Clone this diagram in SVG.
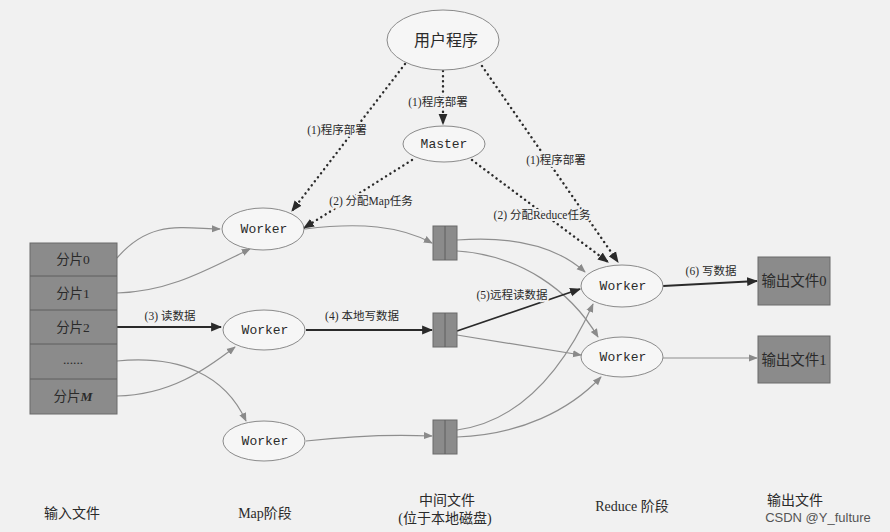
<svg xmlns="http://www.w3.org/2000/svg" width="890" height="532" viewBox="0 0 890 532">
<defs>
<marker id="ag" viewBox="0 0 10 10" refX="9" refY="5" markerWidth="9" markerHeight="9" markerUnits="userSpaceOnUse" orient="auto"><path d="M0,1 L10,5 L0,9 z" fill="#8a8a8a"/></marker>
<marker id="ad" viewBox="0 0 10 10" refX="9" refY="5" markerWidth="11" markerHeight="11" markerUnits="userSpaceOnUse" orient="auto"><path d="M0,1 L10,5 L0,9 z" fill="#2a2a2a"/></marker>
</defs>
<style>
.bg{fill:#f1f1f1}
.node{fill:#f6f6f6;stroke:#8a8a8a;stroke-width:1}
.box{fill:#8b8b8b;stroke:#6a6a6a;stroke-width:1}
.sep{stroke:#5e5e5e;stroke-width:1}
.w{font-family:"Liberation Mono","DejaVu Sans Mono",monospace;font-size:13px;fill:#2a2a2a;text-anchor:middle}
.lbl{font-family:"Liberation Serif","Noto Sans CJK SC",serif;font-size:11.5px;fill:#2a2a2a;text-anchor:middle}
.halo{paint-order:stroke;stroke:#f1f1f1;stroke-width:4px;stroke-linejoin:round}
.bt{font-family:"Liberation Serif","Noto Sans CJK SC",serif;font-size:13.5px;fill:#2a2a2a;text-anchor:middle}
.ob{font-family:"Liberation Serif","Noto Sans CJK SC",serif;font-size:14.5px;fill:#2a2a2a;text-anchor:middle}
.cap{font-family:"Liberation Serif","Noto Sans CJK SC",serif;font-size:14px;fill:#2a2a2a;text-anchor:middle}
.up{font-family:"Liberation Serif","Noto Sans CJK SC",serif;font-size:16px;fill:#2a2a2a;text-anchor:middle}
.g{fill:none;stroke:#8e8e8e;stroke-width:1.2;marker-end:url(#ag)}
.d{fill:none;stroke:#2a2a2a;stroke-width:1.8;marker-end:url(#ad)}
.dot{fill:none;stroke:#2a2a2a;stroke-width:2.4;stroke-linecap:round;stroke-dasharray:0.1 5;marker-end:url(#ad)}
</style>
<rect class="bg" x="0" y="0" width="890" height="532"/>

<g id="connectors">
  <!-- dotted control -->
  <path class="dot" d="M443,71 L443,124"/>
  <path class="dot" d="M405,64 L292,211"/>
  <path class="dot" d="M482,66 L618,262"/>
  <path class="dot" d="M412,160 L304,228"/>
  <path class="dot" d="M472,160 L608,262"/>
  <!-- input to map -->
  <path class="g" d="M117,258 C150,220 180,228 220,229"/>
  <path class="g" d="M117,293 C170,292 210,268 250,249"/>
  <path class="d" d="M115,327 L221,327"/>
  <path class="g" d="M117,361 C180,355 225,375 246,421"/>
  <path class="g" d="M117,396 C170,395 205,370 235,347"/>
  <!-- map to intermediate -->
  <path class="g" d="M305,229 C360,222 400,226 432,243"/>
  <path class="d" d="M306,330 L432,330"/>
  <path class="g" d="M306,441 C350,436 390,434 432,436"/>
  <!-- intermediate to reduce -->
  <path class="g" d="M457,240 C510,236 555,245 585,272"/>
  <path class="g" d="M457,251 C520,255 570,290 598,337"/>
  <path class="d" d="M457,331 L580,289"/>
  <path class="g" d="M457,335 L581,355"/>
  <path class="g" d="M457,430 C530,420 570,355 593,304"/>
  <path class="g" d="M457,437 C520,435 570,410 601,377"/>
  <!-- reduce to output -->
  <path class="d" d="M663,286 L757,281"/>
  <path class="g" d="M663,358 L757,358"/>
</g>

<g id="labels">
  <text class="lbl halo" x="438" y="106">(1)程序部署</text>
  <text class="lbl halo" x="337" y="134">(1)程序部署</text>
  <text class="lbl halo" x="556" y="164">(1)程序部署</text>
  <text class="lbl halo" x="371" y="205">(2) 分配Map任务</text>
  <text class="lbl halo" x="542" y="219">(2) 分配Reduce任务</text>
  <text class="lbl" x="170" y="320">(3)  读数据</text>
  <text class="lbl" x="362" y="320">(4)  本地写数据</text>
  <text class="lbl halo" x="512" y="299">(5)远程读数据</text>
  <text class="lbl" x="711" y="275">(6)  写数据</text>
</g>

<g id="user-program">
  <ellipse class="node" cx="443" cy="40" rx="56" ry="30"/>
  <text class="up" x="446" y="46">用户程序</text>
</g>
<g id="master">
  <ellipse class="node" cx="444" cy="144" rx="41" ry="18"/>
  <text class="w" x="444" y="148">Master</text>
</g>

<g id="input-file">
  <rect class="box" x="30" y="243" width="87" height="171"/>
  <line class="sep" x1="30" y1="276" x2="117" y2="276"/>
  <line class="sep" x1="30" y1="310" x2="117" y2="310"/>
  <line class="sep" x1="30" y1="344" x2="117" y2="344"/>
  <line class="sep" x1="30" y1="379" x2="117" y2="379"/>
  <text class="bt" x="73" y="264">分片0</text>
  <text class="bt" x="73" y="298">分片1</text>
  <text class="bt" x="73" y="332">分片2</text>
  <text class="bt" x="73" y="364">......</text>
  <text class="bt" x="73" y="401">分片<tspan font-style="italic" font-weight="bold">M</tspan></text>
</g>

<g id="map-worker-1">
  <ellipse class="node" cx="263" cy="229" rx="41" ry="21"/>
  <text class="w" x="264" y="233">Worker</text>
</g>
<g id="map-worker-2">
  <ellipse class="node" cx="264" cy="330" rx="41" ry="20"/>
  <text class="w" x="265" y="334">Worker</text>
</g>
<g id="map-worker-3">
  <ellipse class="node" cx="264" cy="441" rx="41" ry="20"/>
  <text class="w" x="265" y="445">Worker</text>
</g>

<g id="intermediate-1">
  <rect class="box" x="433" y="226" width="24" height="34"/>
  <line class="sep" x1="445" y1="226" x2="445" y2="260"/>
</g>
<g id="intermediate-2">
  <rect class="box" x="433" y="313" width="24" height="34"/>
  <line class="sep" x1="445" y1="313" x2="445" y2="347"/>
</g>
<g id="intermediate-3">
  <rect class="box" x="433" y="420" width="24" height="34"/>
  <line class="sep" x1="445" y1="420" x2="445" y2="454"/>
</g>

<g id="reduce-worker-1">
  <ellipse class="node" cx="622" cy="286" rx="41" ry="21"/>
  <text class="w" x="623" y="290">Worker</text>
</g>
<g id="reduce-worker-2">
  <ellipse class="node" cx="622" cy="357" rx="41" ry="20"/>
  <text class="w" x="623" y="361">Worker</text>
</g>

<g id="output-file-0">
  <rect class="box" x="758" y="257" width="72" height="48"/>
  <text class="ob" x="794" y="286">输出文件0</text>
</g>
<g id="output-file-1">
  <rect class="box" x="758" y="336" width="72" height="47"/>
  <text class="ob" x="794" y="365">输出文件1</text>
</g>

<g id="captions">
  <text class="cap" x="72" y="518">输入文件</text>
  <text class="cap" x="265" y="518">Map阶段</text>
  <text class="cap" x="447" y="505">中间文件</text>
  <text class="cap" x="445" y="523">(位于本地磁盘)</text>
  <text class="cap" x="632" y="511">Reduce 阶段</text>
  <text class="cap" x="795" y="505">输出文件</text>
  <text x="818" y="522" font-family="Liberation Sans, Arial, sans-serif" font-size="13px" fill="#555" text-anchor="middle">CSDN @Y_fulture</text>
</g>
</svg>
